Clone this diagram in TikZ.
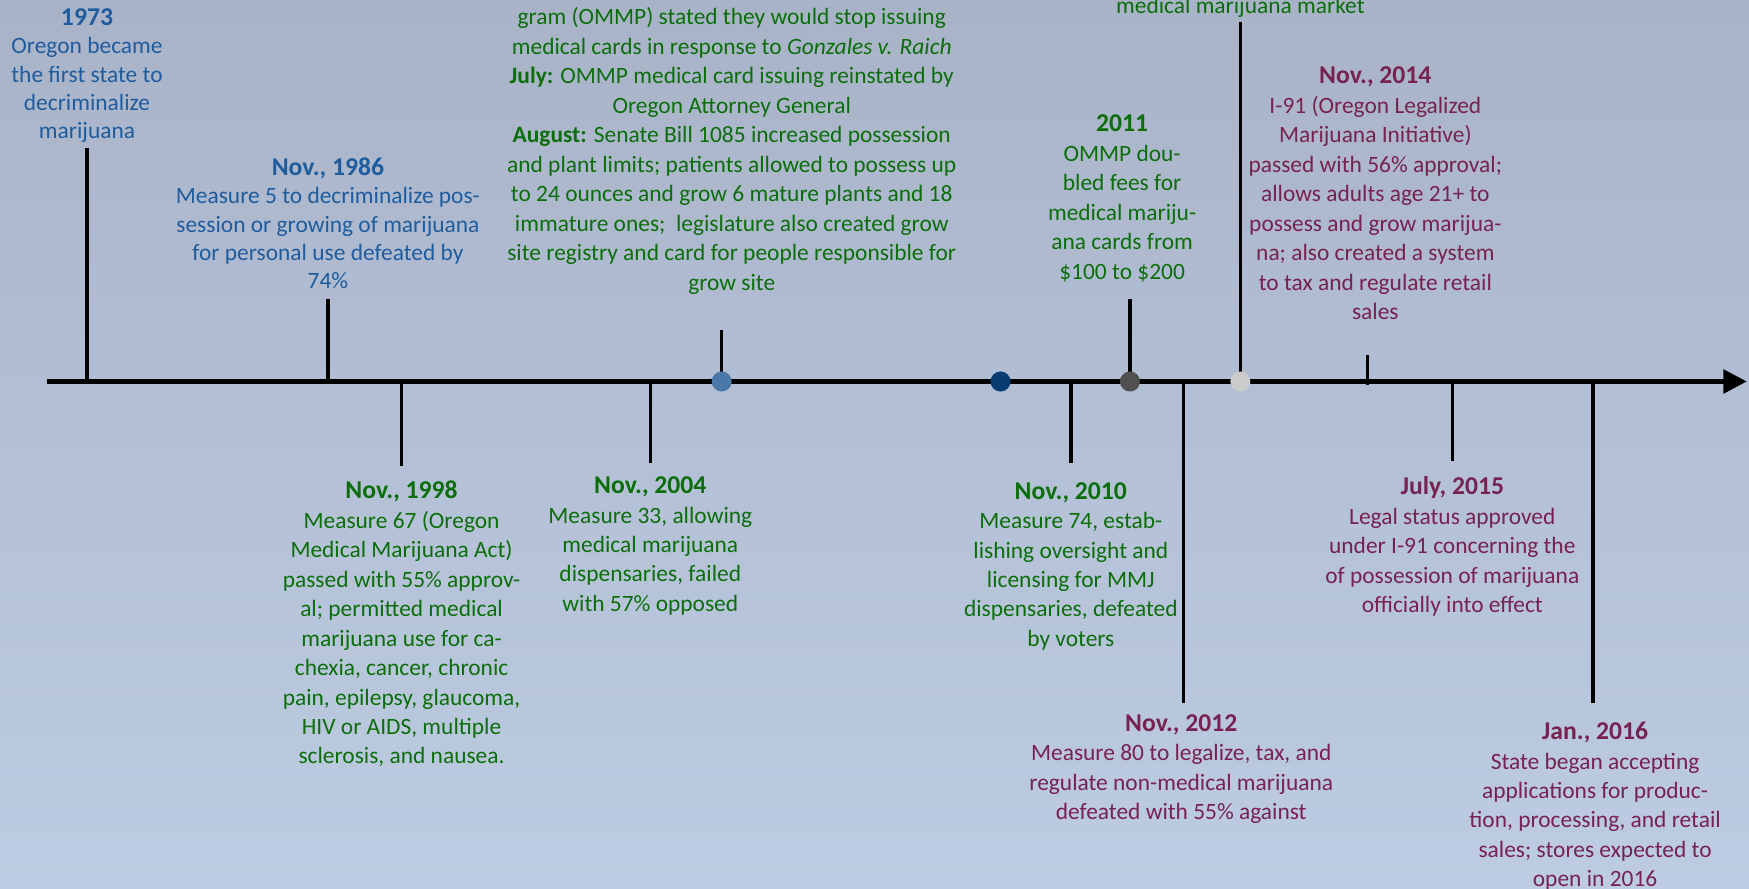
\documentclass[tikz,border=0pt]{standalone}
\usepackage{fontspec}
\setmainfont{Carlito}
\usepackage{tikz}
\usetikzlibrary{arrows.meta, positioning}
\definecolor{bgtop}{RGB}{169,179,200}
\definecolor{bgbot}{RGB}{189,204,226}
\definecolor{decblue}{RGB}{31,92,158}
\definecolor{medgreen}{RGB}{11,110,11}
\definecolor{recmaroon}{RGB}{119,34,80}
\definecolor{dotsteel}{RGB}{74,120,168}
\definecolor{dotnavy}{RGB}{6,60,114}
\definecolor{dotgray}{RGB}{80,80,80}
\definecolor{dotlight}{RGB}{204,204,204}
\newcommand{\evdate}[1]{{\fontsize{11.5}{13.2}\selectfont\bfseries #1}}

\begin{document}
\begin{tikzpicture}[
    x=0.5pt, y=-0.5pt,
    node distance=4pt,
    event/.style={align=center, inner sep=0pt,
                  font=\fontsize{10.5}{13.2}\selectfont},
    tightevent/.style={event, font=\fontsize{10.5}{12.6}\selectfont},
    stem/.style={line width=1.6pt},
    timeaxis/.style={line width=2pt, -{Triangle[length=10.5pt, width=10.5pt]}},
    yeardot/.style={circle, inner sep=0pt, minimum size=9pt}
  ]
  \clip (0,0) rectangle (1568,797);
  \fill[top color=bgtop, bottom color=bgbot] (0,0) rectangle (1568,797);

  % time line
  \coordinate (start) at (42,342);
  \coordinate (end) at (1566,342);
  \draw[timeaxis] (start) -- (end);

  % stems above the line
  \coordinate (a73) at (78,342);    \coordinate (s73) at (78,133);
  \coordinate (a86) at (294,342);   \coordinate (s86) at (294,268);
  \coordinate (a05) at (647,342);   \coordinate (s05) at (647,296);
  \coordinate (a11) at (1013,342);  \coordinate (s11) at (1013,268);
  \coordinate (a13) at (1112,342);  \coordinate (s13) at (1112,20);
  \coordinate (a14) at (1226,345);  \coordinate (s14) at (1226,318);
  \draw[stem] (a73) -- (s73);
  \draw[stem] (a86) -- (s86);
  \draw[stem] (a05) -- (s05);
  \draw[stem] (a11) -- (s11);
  \draw[stem] (a13) -- (s13);
  \draw[stem] (a14) -- (s14);

  % stems below the line
  \coordinate (a98) at (360,342);   \coordinate (s98) at (360,418);
  \coordinate (a04) at (583,342);   \coordinate (s04) at (583,415);
  \coordinate (a10) at (960,342);   \coordinate (s10) at (960,415);
  \coordinate (a12) at (1061,342);  \coordinate (s12) at (1061,630);
  \coordinate (a15) at (1302,342);  \coordinate (s15) at (1302,413);
  \coordinate (a16) at (1428,342);  \coordinate (s16) at (1428,630);
  \draw[stem] (a98) -- (s98);
  \draw[stem] (a04) -- (s04);
  \draw[stem] (a10) -- (s10);
  \draw[stem] (a12) -- (s12);
  \draw[stem] (a15) -- (s15);
  \draw[stem] (a16) -- (s16);

  % dots on the line
  \node[yeardot, fill=dotsteel] (d05) at (a05) {};
  \node[yeardot, fill=dotnavy] (d09) at (897,342) {};
  \node[yeardot, fill=dotgray] (d11) at (a11) {};
  \node[yeardot, fill=dotlight] (d13) at (a13) {};

  % labels above
  \node[tightevent, text=decblue, above=2.5pt of s73] (e1973) {%
    \evdate{1973}\\
    Oregon became\\
    the first state to\\
    decriminalize\\
    marijuana};
  \node[tightevent, text=decblue, above=4.5pt of s86] (e1986) {%
    \evdate{Nov., 1986}\\
    Measure 5 to decriminalize pos-\\
    session or growing of marijuana\\
    for personal use defeated by\\
    74\%};
  \node[event, text=medgreen, above=16pt of s05, xshift=4.5pt] (e2005) {%
    gram (OMMP) stated they would stop issuing\\
    medical cards in response to \textit{Gonzales v. Raich}\\
    \textbf{July:} OMMP medical card issuing reinstated by\\
    Oregon Attorney General\\
    \textbf{August:} Senate Bill 1085 increased possession\\
    and plant limits; patients allowed to possess up\\
    to 24 ounces and grow 6 mature plants and 18\\
    immature ones;~ legislature also created grow\\
    site registry and card for people responsible for\\
    grow site};
  \node[event, text=medgreen, above=7.5pt of s11, xshift=-3.5pt] (e2011) {%
    \evdate{2011}\\
    OMMP dou-\\
    bled fees for\\
    medical mariju-\\
    ana cards from\\
    \$100 to \$200};
  \node[event, text=medgreen, above=2pt of s13] (e2013) {medical marijuana market};
  \node[event, text=recmaroon, above=15.5pt of s14, xshift=3.5pt] (e2014) {%
    \evdate{Nov., 2014}\\
    I-91 (Oregon Legalized\\
    Marijuana Initiative)\\
    passed with 56\% approval;\\
    allows adults age 21+ to\\
    possess and grow marijua-\\
    na; also created a system\\
    to tax and regulate retail\\
    sales};

  % labels below
  \node[event, text=medgreen, below=6.5pt of s98] (e1998) {%
    \evdate{Nov., 1998}\\
    Measure 67 (Oregon\\
    Medical Marijuana Act)\\
    passed with 55\% approv-\\
    al; permitted medical\\
    marijuana use for ca-\\
    chexia, cancer, chronic\\
    pain, epilepsy, glaucoma,\\
    HIV or AIDS, multiple\\
    sclerosis, and nausea.};
  \node[event, text=medgreen, below=6pt of s04] (e2004) {%
    \evdate{Nov., 2004}\\
    Measure 33, allowing\\
    medical marijuana\\
    dispensaries, failed\\
    with 57\% opposed};
  \node[event, text=medgreen, below=8.5pt of s10] (e2010) {%
    \evdate{Nov., 2010}\\
    Measure 74, estab-\\
    lishing oversight and\\
    licensing for MMJ\\
    dispensaries, defeated\\
    by voters};
  \node[event, text=recmaroon, below=5pt of s12, xshift=-1pt] (e2012) {%
    \evdate{Nov., 2012}\\
    Measure 80 to legalize, tax, and\\
    regulate non-medical marijuana\\
    defeated with 55\% against};
  \node[event, text=recmaroon, below=7pt of s15] (e2015) {%
    \evdate{July, 2015}\\
    Legal status approved\\
    under I-91 concerning the\\
    of possession of marijuana\\
    officially into effect};
  \node[event, text=recmaroon, below=8.5pt of s16, xshift=1pt] (e2016) {%
    \evdate{Jan., 2016}\\
    State began accepting\\
    applications for produc-\\
    tion, processing, and retail\\
    sales; stores expected to\\
    open in 2016};

\end{tikzpicture}
\end{document}
